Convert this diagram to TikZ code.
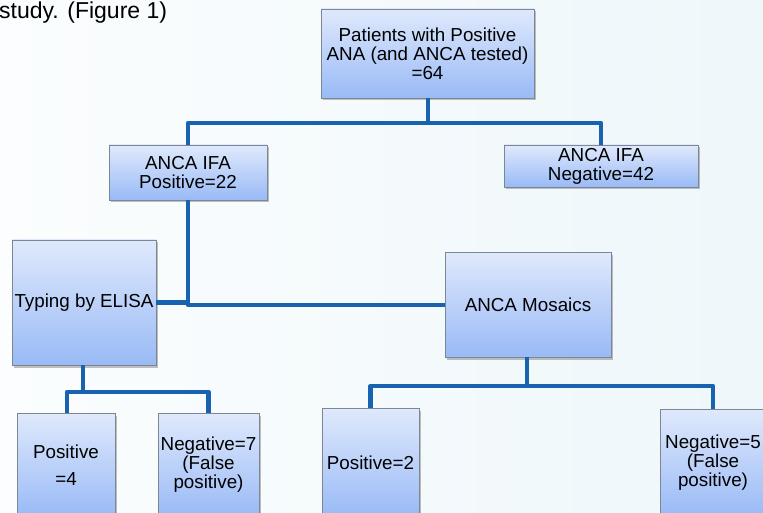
\documentclass[tikz,border=0pt]{standalone}
\usepackage{fontspec}
\setmainfont{Liberation Sans}
\usetikzlibrary{shadows}
\definecolor{lineblue}{HTML}{1862B0}
\definecolor{boxtop}{HTML}{DFE9FC}
\definecolor{boxbot}{HTML}{99BAF6}
\definecolor{boxedge}{HTML}{7D8794}
\definecolor{bgleft}{HTML}{FBFDFE}
\definecolor{bgright}{HTML}{EEF7FA}
\begin{document}
\begin{tikzpicture}[x=1pt,y=-1pt,
  box/.style={draw=boxedge, line width=0.8pt, top color=boxtop, bottom color=boxbot,
    inner sep=0pt, outer sep=0pt, align=center,
    font=\fontsize{18.8}{19}\selectfont,
    drop shadow={shadow xshift=2pt, shadow yshift=-2.5pt, opacity=0.35, fill=black!70}},
  conn/.style={draw=lineblue, line width=4.6pt, line join=round}]
\useasboundingbox (0,0) rectangle (763,513);
\fill[left color=bgleft, right color=bgright] (0,0) rectangle (763,513);
\clip (0,0) rectangle (763,513);

\node[anchor=base west, font=\fontsize{23}{26}\selectfont, inner sep=0pt] (cap) at (-1,19) {study. (Figure 1)};

\node[box, minimum width=213pt, minimum height=89pt] (top) at (427.5,53.5)
  {Patients with Positive\\ANA (and ANCA tested)\\=64};
\node[box, minimum width=158pt, minimum height=55pt] (ifapos) at (188,172.5)
  {ANCA IFA\\Positive=22};
\node[box, minimum width=194pt, minimum height=42pt] (ifaneg) at (601,166)
  {ANCA IFA\\Negative=42};
\node[box, minimum width=144pt, minimum height=125pt] (elisa) at (84,302.5)
  {Typing by ELISA};
\node[box, minimum width=166pt, minimum height=105pt] (mosaics) at (528,304.5)
  {ANCA Mosaics};
\node[box, minimum width=98pt, minimum height=104pt] (pos4) at (66,465)
  {Positive\\[8pt]=4};
\node[box, minimum width=101pt, minimum height=104pt] (neg7) at (208.5,465)
  {Negative=7\\(False\\positive)};
\node[box, minimum width=97pt, minimum height=109pt] (pos2) at (370.5,462.5)
  {Positive=2};
\node[box, minimum width=106pt, minimum height=108pt] (neg5) at (713,463)
  {Negative=5\\(False\\positive)};

\coordinate (j1) at (428,123);
\coordinate (j2) at (188,305);
\coordinate (j3) at (83,392);
\coordinate (j4) at (527,386);

\draw[conn] (top.south -| j1) -- (j1);
\draw[conn] (ifapos.north) |- (j1) -| (ifaneg.north);
\draw[conn] (ifapos.south) -- (j2) -- (mosaics.west |- j2);
\draw[conn] (elisa.east) -- (elisa.east -| j2);
\draw[conn] (elisa.south -| j3) -- (j3);
\draw[conn] (pos4.north -| 67,0) |- (j3) -| (neg7.north);
\draw[conn] (mosaics.south -| j4) -- (j4);
\draw[conn] (pos2.north) |- (j4) -| (neg5.north);
\end{tikzpicture}
\end{document}
